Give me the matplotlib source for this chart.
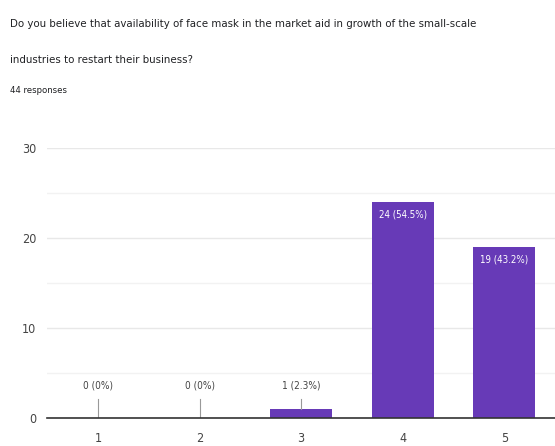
import matplotlib
matplotlib.use("Agg")
import matplotlib.pyplot as plt
from matplotlib import font_manager

# dati
categorie = ["1", "2", "3", "4", "5"]
conteggi = [0, 0, 1, 24, 19]
etichette = ["0 (0%)", "0 (0%)", "1 (2.3%)", "24 (54.5%)", "19 (43.2%)"]
titolo_1 = "Do you believe that availability of face mask in the market aid in growth of the small-scale"
titolo_2 = "industries to restart their business?"
sottotitolo = "44 responses"

# cerca un font stretto (condensed / narrow) fra quelli installati
stretti = [f for f in font_manager.fontManager.ttflist
           if ("Condensed" in f.fname or "Narrow" in f.fname)
           and "Bold" not in f.fname and "Oblique" not in f.fname and "Italic" not in f.fname]
if stretti:
    stretto = stretti[0]
    plt.rcParams["font.family"] = [stretto.name, "DejaVu Sans"]
    plt.rcParams["font.stretch"] = stretto.stretch
    scala = 1.0
else:
    plt.rcParams["font.family"] = ["Roboto", "DejaVu Sans"]
    scala = 0.85

viola = "#673ab7"

fig = plt.figure(figsize=(5.55, 4.46), dpi=100)
ax = fig.add_axes([0.085, 0.063, 0.915, 0.605])

x = list(range(1, len(categorie) + 1))
ax.bar(x, conteggi, width=0.61, color=viola, zorder=3)

ax.set_xlim(0.5, 5.5)
ax.set_ylim(0, 30)
ax.set_yticks([0, 10, 20, 30])
ax.set_yticks([5, 15, 25], minor=True)
ax.set_xticks(x)
ax.set_xticklabels(categorie)
ax.tick_params(axis="both", which="both", length=0, labelsize=9 * scala, colors="#444444")
ax.tick_params(axis="x", pad=10)
ax.tick_params(axis="y", pad=8)
ax.grid(axis="y", which="major", color="#e8e8e8", lw=1, zorder=0)
ax.grid(axis="y", which="minor", color="#f2f2f2", lw=1, zorder=0)
for s in ["top", "right", "left"]:
    ax.spines[s].set_visible(False)
ax.spines["bottom"].set_color("#333333")
ax.spines["bottom"].set_linewidth(1.2)
ax.spines["bottom"].set_zorder(4)

for xi, v, lab in zip(x, conteggi, etichette):
    if v > 5:
        ax.text(xi, v - 0.8, lab, ha="center", va="top", color="white", fontsize=7 * scala, zorder=5)
    else:
        ax.plot([xi, xi], [v, 2.1], color="#999999", lw=0.8, zorder=4)
        ax.text(xi, 3.0, lab, ha="center", va="bottom", color="#444444", fontsize=7.2 * scala, zorder=5)

fig.text(0.018, 0.946, titolo_1, ha="left", va="center", fontsize=8.2 * scala, color="#202124")
fig.text(0.018, 0.866, titolo_2, ha="left", va="center", fontsize=8.2 * scala, color="#202124")
fig.text(0.018, 0.798, sottotitolo, ha="left", va="center", fontsize=6.8 * scala, color="#202124")

fig.savefig("out.png", dpi=100)
